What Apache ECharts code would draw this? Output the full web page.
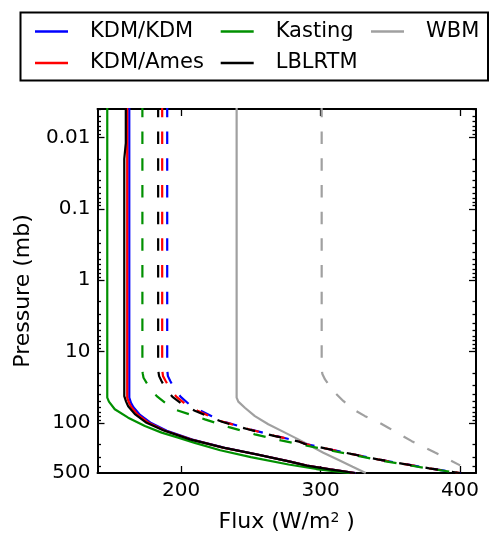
<!DOCTYPE html>
<html><head><meta charset="utf-8">
<script src="https://cdn.jsdelivr.net/npm/echarts@6/dist/echarts.min.js"></script>
<style>html,body{margin:0;padding:0;background:#fff}#c{width:490px;height:538px}</style>
</head><body><div id="c"></div>
<script>
const FONT = 'DejaVu Sans';
const xTicks = [200, 300, 400];
const yTickLabels = [0.01, 0.1, 1, 10, 100, 500];
const yMajorTicks = [0.01, 0.1, 1, 10, 100];
const yMinorTicks = [0.004,0.005,0.006,0.007,0.008,0.009,
  0.02,0.03,0.04,0.05,0.06,0.07,0.08,0.09,
  0.2,0.3,0.4,0.5,0.6,0.7,0.8,0.9,
  2,3,4,5,6,7,8,9, 20,30,40,50,60,70,80,90, 200,300,400];

// Solid curves: pressure (mb) and flux (W/m^2)
const lblSolidP = [0.0035, 0.012, 0.02, 42, 50, 58, 75, 99, 126, 169, 221, 274, 347, 395, 445, 500];
const lblSolidF = [160.3, 160.3, 159.2, 159.2, 160.5, 162, 166.8, 175.2, 187.1, 206.3, 230.2, 254.1, 278, 290, 306.8, 324.7];
const amesSolidP = [0.0035, 44, 52, 60, 77, 100, 128, 170, 222, 275, 347, 395, 445, 500];
const amesSolidF = [161.3, 161.3, 162.6, 164.3, 169, 177, 188.5, 207.3, 230.8, 254.5, 278.2, 290.2, 307, 324.8];
const kdmSolidP = [0.0035, 44, 52, 60, 77, 100, 128, 170, 222, 275, 347, 395, 445, 500];
const kdmSolidF = [162.8, 162.8, 164, 165.8, 170.5, 178.5, 189.7, 208, 231.2, 254.7, 278.3, 290.3, 307, 325];
const kastSolidP = [0.0035, 44, 50, 64, 84, 110, 136, 160, 189, 240, 300, 380, 440, 500];
const kastSolidF = [147, 147, 148.2, 152.4, 162, 174, 186, 197.9, 209.8, 228, 250, 277, 297, 321];
const wbmSolidP = [0.0035, 44, 50, 61, 80, 104, 136, 165, 200, 260, 330, 410, 500];
const wbmSolidF = [239.8, 239.8, 241, 245.7, 252.9, 262.5, 274.5, 283, 291, 302, 313, 323, 332.4];

// Dashed curves
const dashP = [0.0035, 18, 22, 26, 33, 43, 55, 67, 80, 96, 122, 151, 180, 196, 226, 270, 322, 372, 430, 481, 500];
const lblDashF = [183.5, 183.5, 184.2, 186, 189, 193.8, 201, 209.8, 219, 229.2, 247.9, 266.6, 283.8, 288.8, 303.2, 321.8, 340.9, 359.2, 377.9, 393.6, 400];
const amesDashF = [186.4, 186.4, 187, 189, 192, 196.7, 203.5, 211.8, 220.5, 230.2, 248.6, 267.1, 284.2, 289.1, 303.4, 321.9, 341, 359.3, 378, 393.7, 400];
const kdmDashF = [190, 190, 190.5, 192.3, 195.2, 199.7, 206, 213.8, 222, 231.2, 249.2, 267.5, 284.5, 289.3, 303.5, 322, 341.1, 359.4, 378, 393.8, 400.2];
const kastDashP = [0.0035, 17, 20, 23.2, 30, 42, 55, 66, 88.7, 114, 144, 175, 205, 241, 283, 333, 381, 436, 500];
const kastDashF = [172.2, 172.2, 172.4, 173, 176.5, 182.5, 190, 197, 217, 234.3, 252.9, 271.6, 288.8, 306.8, 324.7, 342.7, 360.6, 378.5, 400];
const wbmDashP = [0.0035, 17.7, 20.5, 24.5, 35.6, 49, 64.3, 80, 94, 116, 144, 179, 214, 259, 312, 391];
const wbmDashF = [300.8, 300.8, 301.3, 303.2, 309.1, 316.3, 323.5, 331.9, 340.3, 348.6, 357, 365.4, 373.7, 382.1, 390.5, 400.1];

const COLORS = {'KDM/KDM':'#0000ff','KDM/Ames':'#ff0000','Kasting':'#009000','LBLRTM':'#000000','WBM':'#a0a0a0'};
const DASH = [12.5, 14.2];

function pairs(F, P){ return F.map((f,i)=>[f, P[i]]); }
function mk(name, F, P, dashed){
  return {type:'line', name, data: pairs(F,P), symbol:'none', clip:true, animation:false,
    xAxisIndex:0, yAxisIndex:0, silent:true,
    itemStyle:{color:COLORS[name]},
    lineStyle:{color:COLORS[name], width:2.2, type: dashed?DASH:'solid', cap:'butt'}};
}
const series = [
  mk('KDM/KDM', kdmSolidF, kdmSolidP, false),
  mk('KDM/Ames', amesSolidF, amesSolidP, false),
  mk('Kasting', kastSolidF, kastSolidP, false),
  mk('LBLRTM', lblSolidF, lblSolidP, false),
  mk('WBM', wbmSolidF, wbmSolidP, false),
  mk('KDM/KDM', kdmDashF, dashP, true),
  mk('KDM/Ames', amesDashF, dashP, true),
  mk('Kasting', kastDashF, kastDashP, true),
  mk('LBLRTM', lblDashF, dashP, true),
  mk('WBM', wbmDashF, wbmDashP, true),
];

function leg(name, left, cy){
  return {data:[name], left, top: cy-12, padding:0, icon:'rect', itemWidth:33, itemHeight:2.5,
    selectedMode:false, itemStyle:{borderWidth:0},
    textStyle:{fontSize:21, fontFamily:FONT, color:'#000', lineHeight:24, padding:[0,0,0,17]}};
}
const axLine = {show:true, lineStyle:{color:'#000', width:2}};
const fmt = v => String(+(+v).toPrecision(6));
function yAx(pos, vals, len, line, labels){
  return {type:'log', logBase:10, min:0.004, max:500, inverse:true, position:pos, gridIndex:0,
    axisLine: line ? axLine : {show:false},
    axisTick:{show:true, inside:true, length:len, customValues:vals, lineStyle:{color:'#000', width:1.3}},
    axisLabel: labels ? {show:true, customValues:yTickLabels, formatter:fmt, color:'#000', fontSize:20, fontFamily:FONT, margin:7} : {show:false},
    splitLine:{show:false}, minorTick:{show:false}, minorSplitLine:{show:false}};
}
const yAxes = [yAx('left', yMajorTicks, 7, true, true), yAx('left', yMinorTicks, 3.5, false, false),
  yAx('right', yMajorTicks, 7, true, false), yAx('right', yMinorTicks, 3.5, false, false)];
yAxes[0].name = 'Pressure (mb)';
yAxes[0].nameLocation = 'middle';
yAxes[0].nameGap = 63;
yAxes[0].nameTextStyle = {fontSize:22, fontFamily:FONT, color:'#000'};

function xAx(pos, labels){
  return {type:'value', min:140, max:411.5, position:pos, gridIndex:0, axisLine:axLine,
    axisTick:{show:true, inside:true, length:7, customValues:xTicks, lineStyle:{color:'#000', width:1.3}},
    axisLabel: labels ? {show:true, customValues:xTicks, color:'#000', fontSize:20, fontFamily:FONT, margin:8} : {show:false},
    splitLine:{show:false}};
}
const xAxes = [xAx('bottom', true), xAx('top', false)];
xAxes[0].name = 'Flux (W/m{sup|2} )';
xAxes[0].nameLocation = 'middle';
xAxes[0].nameGap = 38;
xAxes[0].nameTextStyle = {fontSize:22, fontFamily:FONT, color:'#000',
  rich:{sup:{fontSize:14, fontFamily:FONT, color:'#000', verticalAlign:'top'}}};

const chart = echarts.init(document.getElementById('c'), null, {renderer:'canvas'});
chart.setOption({
  animation:false,
  backgroundColor:'#fff',
  grid:{left:97.5, right:14, top:109, bottom:64, containLabel:false},
  xAxis:xAxes, yAxis:yAxes,
  legend:[leg('KDM/KDM',35,31.5), leg('KDM/Ames',35,63), leg('Kasting',220.7,31.5), leg('LBLRTM',220.7,63), leg('WBM',371,31.5)],
  graphic:[{type:'rect', shape:{x:20.5, y:12.5, width:467.5, height:68}, style:{fill:'none', stroke:'#000', lineWidth:2}, z:100, silent:true}],
  series
});
</script></body></html>
